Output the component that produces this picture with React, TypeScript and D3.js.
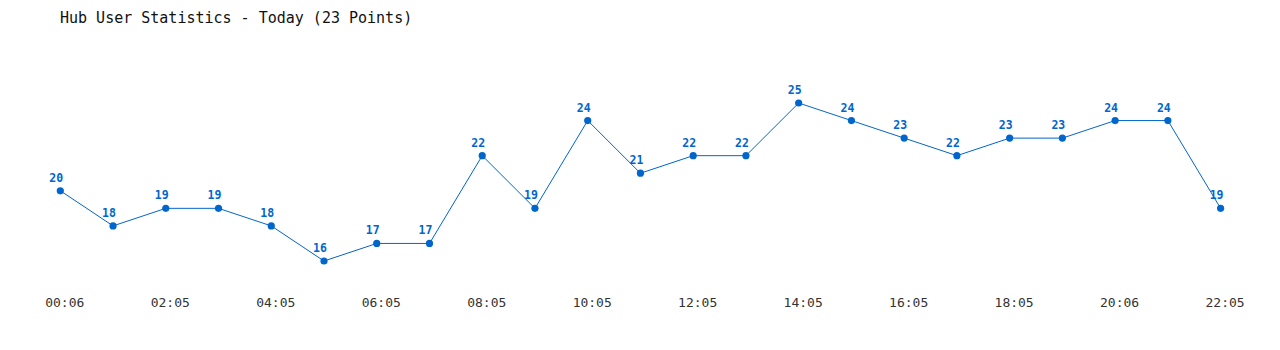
import React from "react";
import * as d3 from "d3";

const title = "Hub User Statistics - Today (23 Points)";
const times = [
  "00:06", "01:05", "02:05", "03:05", "04:05", "05:05", "06:05", "07:05", "08:05", "09:05",
  "10:05", "11:05", "12:05", "13:05", "14:05", "15:05", "16:05", "17:05", "18:05", "19:05",
  "20:06", "21:05", "22:05",
];
const users = [20, 18, 19, 19, 18, 16, 17, 17, 22, 19, 24, 21, 22, 22, 25, 24, 23, 22, 23, 23, 24, 24, 19];
const tickLabels = ["00:06", "02:05", "04:05", "06:05", "08:05", "10:05", "12:05", "14:05", "16:05", "18:05", "20:06", "22:05"];

const W = 1280;
const H = 350;
const BLUE = "#0066cc";
const FONT = "'DejaVu Sans Mono', 'Liberation Mono', monospace";

export default function App() {
  const x = d3.scalePoint<string>().domain(times).range([60.3, 1220.6]);
  const y = d3.scaleLinear().domain([16, 25]).range([261, 103]);
  const line = d3
    .line<number>()
    .x((_, i) => x(times[i]) as number)
    .y((d) => y(d));

  return (
    <svg
      width={W}
      height={H}
      style={{ position: "absolute", left: 0, top: 0, background: "#fff" }}
    >
      <text x={60} y={23} fontFamily={FONT} fontSize={15} fill="#111">
        {title}
      </text>
      <path d={line(users) || ""} fill="none" stroke={BLUE} strokeWidth={1} />
      {users.map((v, i) => (
        <circle key={"p" + i} cx={x(times[i])} cy={y(v)} r={3.6} fill={BLUE} />
      ))}
      {users.map((v, i) => (
        <text
          key={"l" + i}
          x={(x(times[i]) as number) - 4}
          y={y(v) - 9}
          textAnchor="middle"
          fontFamily={FONT}
          fontSize={11.5}
          fontWeight="bold"
          fill={BLUE}
        >
          {v}
        </text>
      ))}
      {tickLabels.map((t) => (
        <text
          key={"t" + t}
          x={(x(t) as number) + 4.5}
          y={307}
          textAnchor="middle"
          fontFamily={FONT}
          fontSize={13}
          fill="#333"
        >
          {t}
        </text>
      ))}
    </svg>
  );
}
